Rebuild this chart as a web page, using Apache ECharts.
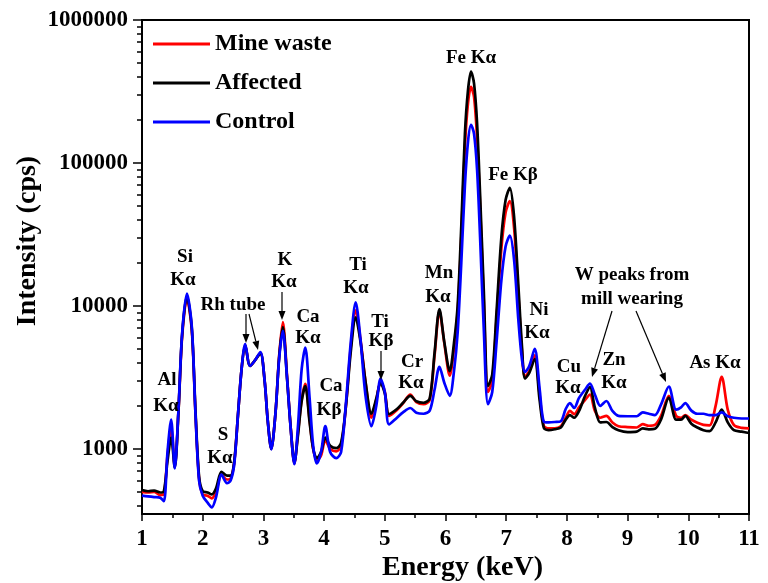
<!DOCTYPE html>
<html>
<head>
<meta charset="utf-8">
<script src="https://cdn.jsdelivr.net/npm/echarts@6/dist/echarts.min.js"></script>
<style>
  html, body { margin: 0; padding: 0; background: #fff; }
  #chart { width: 768px; height: 583px; }
</style>
</head>
<body>
<div id="chart"></div>
<script>
// energy axis (keV) and the three spectra (cps)
var energy = [
  1.00, 1.10, 1.20, 1.30, 1.36, 1.42, 1.48, 1.54, 1.60, 1.66,
  1.74, 1.82, 1.88, 1.94, 2.00, 2.08, 2.15, 2.22, 2.31, 2.40,
  2.46, 2.52, 2.58, 2.64, 2.70, 2.78, 2.86, 2.95, 3.02, 3.07,
  3.13, 3.20, 3.26, 3.32, 3.39, 3.45, 3.51, 3.57, 3.63, 3.69,
  3.76, 3.82, 3.88, 3.95, 4.02, 4.10, 4.20, 4.28, 4.36, 4.44,
  4.52, 4.60, 4.68, 4.78, 4.86, 4.93, 5.00, 5.07, 5.20, 5.30,
  5.42, 5.52, 5.64, 5.74, 5.82, 5.90, 5.98, 6.07, 6.14, 6.20,
  6.26, 6.32, 6.37, 6.42, 6.47, 6.52, 6.57, 6.63, 6.70, 6.77,
  6.84, 6.92, 6.99, 7.06, 7.13, 7.20, 7.26, 7.31, 7.38, 7.47,
  7.55, 7.62, 7.70, 7.80, 7.90, 7.98, 8.05, 8.12, 8.20, 8.30,
  8.38, 8.46, 8.55, 8.65, 8.75, 8.85, 9.00, 9.15, 9.25, 9.35,
  9.45, 9.55, 9.68, 9.80, 9.88, 9.95, 10.05, 10.15, 10.25, 10.35,
  10.45, 10.55, 10.65, 10.75, 10.88, 11.00
];

var mineWaste = [
  500, 495, 500, 475, 480, 900, 1400, 760, 1800, 6000,
  11300, 6800, 1800, 620, 480, 470, 450, 500, 660, 610,
  620, 800, 1700, 3600, 5300, 3800, 4150, 4700, 3000, 1600,
  1000, 1800, 4500, 7700, 3200, 1400, 790, 1300, 2200, 2850,
  1600, 1000, 830, 900, 1150, 1000, 960, 1050, 2000, 5200,
  9300, 5800, 3000, 1650, 2200, 2950, 2500, 1700, 1870, 2080,
  2400, 2120, 2050, 2200, 4500, 9200, 5500, 3250, 5000, 9000,
  30000, 130000, 260000, 340000, 290000, 150000, 50000, 11000, 2500, 3000,
  8000, 25000, 45000, 54000, 35000, 12000, 4800, 3200, 3500, 4500,
  2400, 1450, 1390, 1390, 1440, 1650, 1840, 1750, 1950, 2200,
  2400, 1850, 1650, 1700, 1530, 1440, 1420, 1410, 1490, 1450,
  1470, 1700, 2350, 1700, 1650, 1720, 1600, 1520, 1470, 1460,
  2000, 3190, 1880, 1470, 1400, 1390
];

var affected = [
  515, 505, 510, 495, 505, 820, 1200, 740, 1800, 6200,
  11700, 7000, 1900, 640, 505, 495, 480, 530, 690, 650,
  650, 820, 1700, 3600, 5300, 3800, 4150, 4650, 3000, 1600,
  1000, 1800, 4400, 7100, 3100, 1400, 800, 1250, 2150, 2750,
  1550, 1000, 860, 950, 1200, 1050, 1010, 1100, 2000, 4800,
  8300, 5600, 3000, 1760, 2250, 2900, 2450, 1750, 1900, 2100,
  2350, 2150, 2100, 2250, 4700, 9500, 5600, 3500, 5500, 10000,
  36000, 160000, 320000, 435000, 360000, 190000, 60000, 13000, 2750, 3300,
  9000, 30000, 55000, 67000, 42000, 14000, 5200, 3100, 3400, 4250,
  2200, 1400, 1350, 1370, 1410, 1600, 1720, 1650, 1840, 2350,
  2700, 1950, 1530, 1540, 1420, 1350, 1310, 1320, 1390, 1370,
  1380, 1600, 2280, 1600, 1600, 1700, 1500, 1410, 1350, 1330,
  1530, 1880, 1530, 1350, 1320, 1290
];

var control = [
  470, 465, 460, 455, 430, 950, 1600, 730, 1850, 6300,
  12200, 7200, 1800, 600, 470, 420, 390, 460, 660, 575,
  600, 780, 1700, 3600, 5400, 3800, 4150, 4750, 3000, 1600,
  990, 1800, 4300, 6700, 3100, 1380, 780, 1450, 3600, 5100,
  2300, 1050, 790, 950, 1440, 950, 860, 950, 2100, 5600,
  10600, 5800, 2400, 1440, 2000, 3100, 2500, 1480, 1650, 1800,
  1930, 1790, 1760, 1850, 2600, 3750, 2900, 2350, 3500, 6500,
  20000, 70000, 140000, 185000, 160000, 90000, 30000, 7000, 2050, 2500,
  5500, 15000, 26000, 31000, 21000, 8000, 4200, 3450, 3800, 5000,
  2650, 1550, 1530, 1540, 1560, 1900, 2090, 1930, 2270, 2600,
  2860, 2400, 2000, 2160, 1840, 1700, 1690, 1690, 1800, 1760,
  1720, 2040, 2720, 1880, 1950, 2090, 1850, 1760, 1760, 1720,
  1720, 1800, 1690, 1650, 1630, 1630
];

var seriesNames = ['Mine waste', 'Affected', 'Control'];
var seriesColors = ['#ff0000', '#000000', '#0000ff'];

var yMajorTicks = [1000, 10000, 100000, 1000000];
var yMinorTicks = [
  400, 500, 600, 700, 800, 900,
  2000, 3000, 4000, 5000, 6000, 7000, 8000, 9000,
  20000, 30000, 40000, 50000, 60000, 70000, 80000, 90000,
  200000, 300000, 400000, 500000, 600000, 700000, 800000, 900000
];

function pairs(vals) {
  return energy.map(function (e, i) { return [e, vals[i]]; });
}

var serif = '"Liberation Serif", "Times New Roman", serif';
var labelFont = 'bold 19px ' + serif;

// peak labels: [text, x, y]
var peakLabels = [
  ['Al', 167, 380], ['K\u03b1', 166, 406],
  ['Si', 185, 257], ['K\u03b1', 183, 280],
  ['S', 223, 435], ['K\u03b1', 220, 458],
  ['Rh tube', 233, 305],
  ['K', 285, 260], ['K\u03b1', 284, 282],
  ['Ca', 308, 317], ['K\u03b1', 308, 338],
  ['Ca', 331, 386], ['K\u03b2', 329, 410],
  ['Ti', 358, 265], ['K\u03b1', 356, 288],
  ['Ti', 380, 322], ['K\u03b2', 381, 341],
  ['Cr', 412, 362], ['K\u03b1', 411, 383],
  ['Mn', 439, 273], ['K\u03b1', 438, 297],
  ['Fe K\u03b1', 471, 58],
  ['Fe K\u03b2', 513, 175],
  ['Ni', 539, 310], ['K\u03b1', 537, 333],
  ['Cu', 569, 367], ['K\u03b1', 568, 388],
  ['W peaks from', 632, 275], ['mill wearing', 632, 299],
  ['Zn', 614, 360], ['K\u03b1', 614, 383],
  ['As K\u03b1', 715, 363]
];

// arrows: [x1, y1, x2, y2]
var arrows = [
  [246, 314, 246, 343],
  [249, 314, 258, 350],
  [282, 292, 282, 320],
  [381, 351, 381, 380],
  [612, 311, 592, 377],
  [636, 311, 666, 382]
];

var graphics = [];
peakLabels.forEach(function (p) {
  graphics.push({
    type: 'text',
    x: p[1], y: p[2],
    style: { text: p[0], font: labelFont, fill: '#000', textAlign: 'center', textVerticalAlign: 'middle' },
    z: 100
  });
});
arrows.forEach(function (a) {
  var dx = a[2] - a[0], dy = a[3] - a[1];
  var len = Math.sqrt(dx * dx + dy * dy);
  var ux = dx / len, uy = dy / len;
  var hl = 9, hw = 3.5;
  var bx = a[2] - ux * hl, by = a[3] - uy * hl;
  graphics.push({
    type: 'line',
    shape: { x1: a[0], y1: a[1], x2: bx, y2: by },
    style: { stroke: '#000', lineWidth: 1.2 },
    z: 100
  });
  graphics.push({
    type: 'polygon',
    shape: { points: [[a[2], a[3]], [bx - uy * hw, by + ux * hw], [bx + uy * hw, by - ux * hw]] },
    style: { fill: '#000' },
    z: 100
  });
});

var dom = document.getElementById('chart');
var myChart = echarts.init(dom);

var option = {
  backgroundColor: '#fff',
  animation: false,
  grid: {
    left: 142, right: 19, top: 20, bottom: 69,
    containLabel: false,
    outerBoundsMode: 'none',
    show: true, borderColor: '#000', borderWidth: 2
  },
  legend: {
    orient: 'vertical',
    left: 153, top: 32,
    padding: 0,
    icon: 'rect',
    itemWidth: 57, itemHeight: 3,
    itemGap: 15,
    textStyle: { fontFamily: serif, fontWeight: 'bold', fontSize: 24, color: '#000', lineHeight: 24 },
    data: seriesNames
  },
  xAxis: {
    type: 'value',
    min: 1, max: 11, interval: 1,
    name: 'Energy (keV)',
    nameLocation: 'middle',
    nameGap: 40,
    nameMoveOverlap: false,
    nameTextStyle: { fontFamily: serif, fontWeight: 'bold', fontSize: 28, color: '#000', padding: [0, 0, 0, 34] },
    axisLine: { lineStyle: { color: '#000', width: 2 } },
    axisTick: { inside: false, length: 7, lineStyle: { color: '#000', width: 1.5 } },
    minorTick: { show: true, splitNumber: 2, length: 4, lineStyle: { color: '#000', width: 1.5 } },
    axisLabel: { fontFamily: serif, fontWeight: 'bold', fontSize: 23, color: '#000', margin: 14 },
    splitLine: { show: false }
  },
  yAxis: [{
    type: 'log',
    logBase: 10,
    min: 350, max: 1000000,
    name: 'Intensity (cps)',
    nameLocation: 'middle',
    nameGap: 100,
    nameMoveOverlap: false,
    nameTextStyle: { fontFamily: serif, fontWeight: 'bold', fontSize: 28, color: '#000', padding: [0, 0, 0, 52] },
    axisLine: { show: true, lineStyle: { color: '#000', width: 2 } },
    axisTick: { inside: false, length: 9, customValues: yMajorTicks, lineStyle: { color: '#000', width: 1.5 } },
    axisLabel: {
      customValues: yMajorTicks,
      formatter: function (v) { return String(Math.round(v)); },
      fontFamily: serif, fontWeight: 'bold', fontSize: 23, color: '#000', margin: 14
    },
    splitLine: { show: false }
  }, {
    // second left axis only carries the 2..9 minor ticks of each decade
    type: 'log',
    logBase: 10,
    min: 350, max: 1000000,
    position: 'left',
    offset: 0,
    axisLine: { show: true, lineStyle: { color: '#000', width: 2 } },
    axisTick: { show: true, inside: false, length: 5, customValues: yMinorTicks, lineStyle: { color: '#000', width: 1.5 } },
    axisLabel: { show: false },
    splitLine: { show: false }
  }],
  series: [mineWaste, affected, control].map(function (vals, i) {
    return {
      name: seriesNames[i],
      type: 'line',
      yAxisIndex: 0,
      data: pairs(vals),
      symbol: 'none',
      smooth: 0.3,
      lineStyle: { color: seriesColors[i], width: 2.7 },
      itemStyle: { color: seriesColors[i] },
      z: 2 + i
    };
  }),
  graphic: graphics
};

if (option && typeof option === 'object') {
  myChart.setOption(option, true);
}
</script>
</body>
</html>
